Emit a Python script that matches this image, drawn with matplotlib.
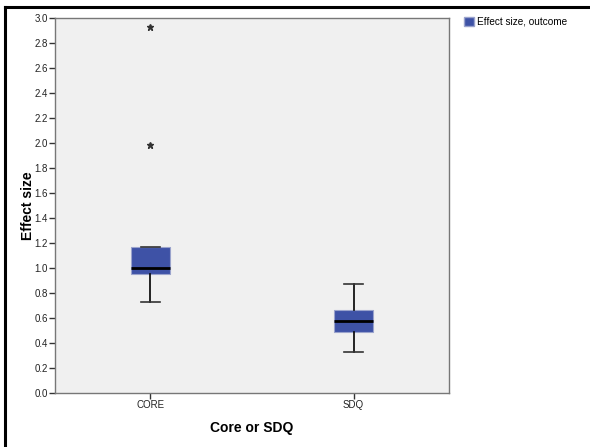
import matplotlib.pyplot as plt
from matplotlib.lines import Line2D
from matplotlib.patches import Rectangle

plt.rcParams['font.family'] = ['Liberation Sans', 'DejaVu Sans']

# Data (box plot summary per group)
groups = ['CORE', 'SDQ']
whislo = [0.726, 0.33]
q1 = [0.95, 0.486]
med = [1.0, 0.576]
q3 = [1.166, 0.664]
whishi = [1.166, 0.874]
outliers = [[1.984, 2.925], []]
legend_label = 'Effect size, outcome'

box_color = '#3E52A6'

stats = []
for i, g in enumerate(groups):
    stats.append(dict(label=g, whislo=whislo[i], q1=q1[i], med=med[i],
                      q3=q3[i], whishi=whishi[i], fliers=outliers[i]))

fig = plt.figure(figsize=(5.9, 4.47), dpi=100)
ax = fig.add_axes([55/590, 1 - 393/447, (449 - 55)/590, (393 - 18)/447])
ax.set_facecolor('#F0F0F0')

ax.bxp(stats, positions=range(len(groups)), widths=0.19, patch_artist=True,
       boxprops=dict(facecolor=box_color, edgecolor='#9AA3CC', linewidth=0.8),
       medianprops=dict(color='black', linewidth=2),
       whiskerprops=dict(color='black', linewidth=1.2),
       capprops=dict(color='#333333', linewidth=1.2),
       capwidths=0.09,
       flierprops=dict(marker='*', markersize=4.5, markerfacecolor='#333333',
                       markeredgecolor='#333333', linestyle='none'))

ax.set_xlim(-0.47, 1.47)
ax.set_ylim(0, 3.0)
ax.set_yticks([i / 10 for i in range(0, 31, 2)])
ax.set_yticklabels([f'{i / 10:.1f}' for i in range(0, 31, 2)])
ax.set_xticks(range(len(groups)))
ax.set_xticklabels(groups)
ax.tick_params(axis='both', labelsize=7, length=4, width=1, color='#333333',
               labelcolor='#222222', pad=1)
for s in ax.spines.values():
    s.set_color('#777777')
    s.set_linewidth(1)

ax.set_xlabel('Core or SDQ', fontsize=10, fontweight='bold', labelpad=8)
ax.set_ylabel('Effect size', fontsize=10, fontweight='bold')
ax.yaxis.set_label_coords(-0.05, 0.5)

handle = Rectangle((0, 0), 1, 1, facecolor=box_color, edgecolor='#9AA3CC')
fig.legend([handle], [legend_label], loc='upper left',
           bbox_to_anchor=(462/590, 1 - 15/447), frameon=False, fontsize=7.2,
           handlelength=1.0, handleheight=1.0, handletextpad=0.3,
           borderaxespad=0, borderpad=0.2)

# outer frame lines
fig.add_artist(Line2D([5/590, 5/590], [0, 1 - 7/447], transform=fig.transFigure,
                      color='black', linewidth=2.2))
fig.add_artist(Line2D([5/590, 1], [1 - 7/447, 1 - 7/447], transform=fig.transFigure,
                      color='black', linewidth=2.2))

fig.savefig('out.png', dpi=100)
